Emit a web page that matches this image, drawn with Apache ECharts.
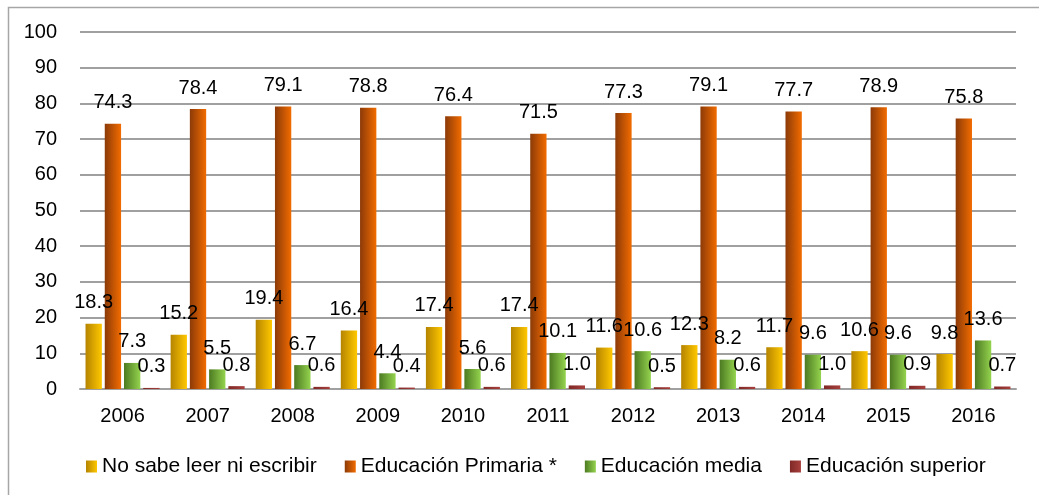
<!DOCTYPE html>
<html>
	<head>
		<meta charset="utf-8">
		<title></title>
		<script src="https://cdn.jsdelivr.net/npm/echarts@6/dist/echarts.min.js"></script>
		<style>
			html, body { margin: 0; padding: 0; background: #fff; }
			.chart { width: 1039px; height: 495px; }
		</style>
	</head>
	<body>
		<div class="chart"></div>
		<script>
			var years = ['2006', '2007', '2008', '2009', '2010', '2011', '2012', '2013', '2014', '2015', '2016'];
			var noSabe = [18.3, 15.2, 19.4, 16.4, 17.4, 17.4, 11.6, 12.3, 11.7, 10.6, 9.8];
			var primaria = [74.3, 78.4, 79.1, 78.8, 76.4, 71.5, 77.3, 79.1, 77.7, 78.9, 75.8];
			var media = [7.3, 5.5, 6.7, 4.4, 5.6, 10.1, 10.6, 8.2, 9.6, 9.6, 13.6];
			var superior = [0.3, 0.8, 0.6, 0.4, 0.6, 1.0, 0.5, 0.6, 1.0, 0.9, 0.7];
			var names = ['No sabe leer ni escribir', 'Educación Primaria *', 'Educación media', 'Educación superior'];

			var font = '"Liberation Sans", Arial, sans-serif';
			var chart = echarts.init(document.querySelector('.chart'));

			function grad(a, b) {
				return new echarts.graphic.LinearGradient(0, 0, 1, 0, [
					{ offset: 0, color: a },
					{ offset: 1, color: b }
				]);
			}

			function bar(name, data, color) {
				return {
					name: name,
					type: 'bar',
					data: data,
					barGap: '18%',
					barCategoryGap: '13%',
					itemStyle: { color: color },
					label: {
						show: true,
						position: 'top',
						distance: 11,
						color: '#000',
						fontSize: 20,
						fontFamily: font,
						formatter: function (p) { return p.value.toFixed(1); }
					}
				};
			}

			chart.setOption({
				animation: false,
				backgroundColor: '#fff',
				// chart frame, runs off the right and bottom edge like the reference
				graphic: [{
					type: 'rect',
					shape: { x: 8.5, y: 7.5, width: 1200, height: 600 },
					style: { fill: 'none', stroke: '#a6a6a6', lineWidth: 1.5 }
				}],
				grid: { left: 80, right: 23, top: 32, bottom: 106 },
				legend: {
					left: 86,
					top: 456,
					padding: 0,
					itemWidth: 11,
					itemHeight: 12,
					itemGap: 28,
					icon: 'rect',
					textStyle: { fontSize: 21, fontFamily: font, color: '#000' },
					data: names
				},
				xAxis: {
					type: 'category',
					data: years,
					axisLine: { lineStyle: { color: '#a0a0a0', width: 2 } },
					axisTick: { show: false },
					axisLabel: { margin: 17, fontSize: 20, fontFamily: font, color: '#000' }
				},
				yAxis: {
					type: 'value',
					min: 0,
					max: 100,
					interval: 10,
					axisLine: { show: false },
					axisTick: { show: false },
					axisLabel: { margin: 23, fontSize: 20, fontFamily: font, color: '#000' },
					splitLine: { lineStyle: { color: '#a0a0a0', width: 2 } }
				},
				series: [
					bar(names[0], noSabe, grad('#b58400', '#ffc800')),
					bar(names[1], primaria, grad('#8c3a08', '#f26c00')),
					bar(names[2], media, grad('#4c7a22', '#94d34e')),
					bar(names[3], superior, grad('#7f2826', '#a8403d'))
				]
			});
		</script>
	</body>
</html>
